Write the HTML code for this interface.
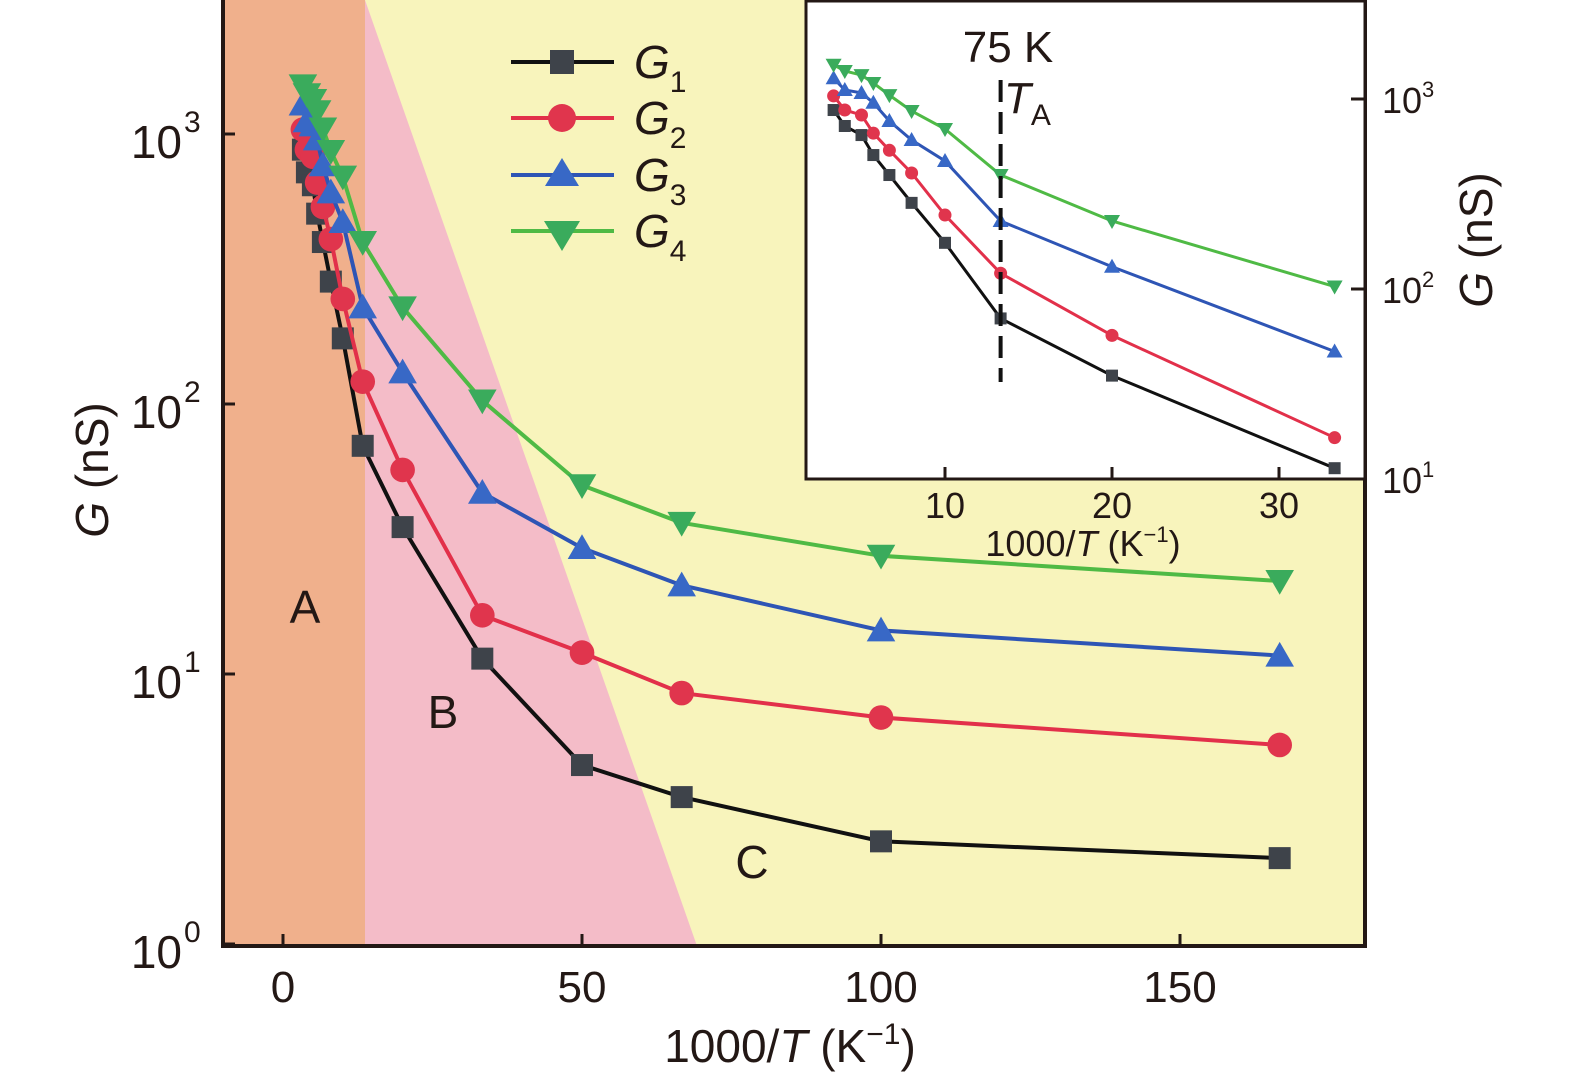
<!DOCTYPE html>
<html><head><meta charset="utf-8"><style>
html,body{margin:0;padding:0;background:#fff;}
svg{display:block;font-family:"Liberation Sans",sans-serif;}
</style></head><body>
<svg id="chart" width="1575" height="1083" viewBox="0 0 1575 1083">
<g id="bg"></g>
<g id="main"></g>
<g id="inset"></g>
</svg>
<script>
const invT = [3.33, 4, 5, 5.71, 6.67, 8, 10, 13.33, 20, 33.33, 50, 66.67, 100, 166.67];
const g1 = [875, 721, 646, 507, 398, 284, 175, 70, 35, 11.4, 4.6, 3.5, 2.4, 2.08];
const g2 = [1038, 875, 824, 661, 537, 408, 245, 121, 57, 16.5, 12, 8.5, 6.9, 5.46];
const g3 = [1286, 1115, 1076, 955, 766, 608, 472, 228, 131, 46.9, 29.3, 21.3, 14.5, 11.7];
const g4 = [1514, 1404, 1336, 1214, 1048, 865, 695, 398, 228, 103, 50, 36.3, 27.4, 22.1];
const xTicks = [0, 50, 100, 150];
const yTicks = [0, 1, 2, 3];
const insetXTicks = [10, 20, 30];
const insetYTicks = [1, 2, 3];
const seriesNames = ['G1','G2','G3','G4'];

const NS = 'http://www.w3.org/2000/svg';
function mk(parent, tag, attrs){const e=document.createElementNS(NS,tag);for(const k in attrs)e.setAttribute(k,attrs[k]);parent.appendChild(e);return e;}
const bg=document.getElementById('bg'), main=document.getElementById('main'), inset=document.getElementById('inset');

// main axes
const L=223,R=1365,B=946,T=0;
const X = v => 283 + (v-0)*5.98;
const Y = v => 944 - Math.log10(v)*270;
// inset axes
const IL=806,IR=1365,IT=1,IB=479;
const IX = v => 778 + v*16.7;
const IY = v => 479 - (Math.log10(v)-1)*190;

// background regions
let e;
e=mk(bg,'rect',{x:L,y:T,width:R-L,height:B-T,fill:'#f8f4bc'});

e=mk(bg,'polygon',{points:`365,${T} 365,${B} 697,${B} 365,${T}`,fill:'#f4bcc8'});

e=mk(bg,'rect',{x:L,y:T,width:365-L,height:B-T,fill:'#f0b08c'});


const colors=[
 {line:'#111',mk:'#3e434a',shape:'sq'},
 {line:'#e2304a',mk:'#e0354d',shape:'ci'},
 {line:'#2e55b5',mk:'#3868c6',shape:'up'},
 {line:'#4fba45',mk:'#3aab5c',shape:'dn'}];
const data=[g1,g2,g3,g4];

function marker(g,shape,cx,cy,s,fill){
  if(shape==='sq') return mk(g,'rect',{x:cx-s,y:cy-s,width:2*s,height:2*s,fill});
  if(shape==='ci') return mk(g,'circle',{cx,cy,r:s*1.12,fill});
  if(shape==='up') return mk(g,'polygon',{points:`${cx},${cy-s*1.25} ${cx-s*1.3},${cy+s} ${cx+s*1.3},${cy+s}`,fill});
  return mk(g,'polygon',{points:`${cx},${cy+s*1.25} ${cx-s*1.3},${cy-s} ${cx+s*1.3},${cy-s}`,fill});
}

// main series
data.forEach((arr,i)=>{
  const g=mk(main,'g',{});
  
  
  const pts=arr.map((v,j)=>X(invT[j])+','+Y(v)).join(' ');
  const pl=mk(g,'polyline',{points:pts,fill:'none',stroke:colors[i].line,'stroke-width':4,'stroke-linejoin':'round'});
  
  
  arr.forEach((v,j)=>{
    const m=marker(g,colors[i].shape,X(invT[j]),Y(v),11,colors[i].mk);
    
    
  });
});

// main frame
e=mk(main,'path',{d:`M${L},${T} V${B} H${R} V${T}`,fill:'none',stroke:'#231815','stroke-width':4});

xTicks.forEach(t=>{
  const x=X(t);
  e=mk(main,'line',{x1:x,y1:B,x2:x,y2:B-12,stroke:'#231815','stroke-width':3});
  
  e=mk(main,'text',{x:x,y:1002,'font-size':44,'text-anchor':'middle',fill:'#231815'});
  e.textContent=t;
  
});
yTicks.forEach(t=>{
  const y=Y(Math.pow(10,t));
  e=mk(main,'line',{x1:L,y1:y,x2:L+12,y2:y,stroke:'#231815','stroke-width':3});
  
  e=mk(main,'text',{x:182,y:y+24,'font-size':46,'text-anchor':'end',fill:'#231815'});
  e.textContent='10';
  
  const s=mk(main,'text',{x:184,y:y-2,'font-size':30,fill:'#231815'});
  s.textContent=t;
  
});
</script>
<script>
// static labels
(function(){
const NS='http://www.w3.org/2000/svg';
const svg=document.getElementById('chart');
function t(x,y,size,html,name,extra){const e=document.createElementNS(NS,'text');e.setAttribute('x',x);e.setAttribute('y',y);e.setAttribute('font-size',size);e.setAttribute('fill','#231815');if(extra)for(const k in extra)e.setAttribute(k,extra[k]);e.innerHTML=html;svg.appendChild(e);return e;}
t(790,1062,46,'1000/<tspan font-style="italic">T</tspan> (K<tspan font-size="30" dy="-18">−1</tspan><tspan dy="18">)</tspan>','x-axis-title',{'text-anchor':'middle'});
t(108,470,46,'<tspan font-style="italic">G</tspan> (nS)','y-axis-title',{'text-anchor':'middle',transform:'rotate(-90 108 470)'});
t(305,623,46,'A','region-a-label',{'text-anchor':'middle'});
t(443,728,46,'B','region-b-label',{'text-anchor':'middle'});
t(752,878,46,'C','region-c-label',{'text-anchor':'middle'});
})();
</script>
<script>
// legend
(function(){
const NS='http://www.w3.org/2000/svg';
const svg=document.getElementById('chart');
const rows=[62,118,175,231];
const cols=[['#111','#3e434a','sq'],['#e2304a','#e0354d','ci'],['#2e55b5','#3868c6','up'],['#4fba45','#3aab5c','dn']];
const g=document.createElementNS(NS,'g');svg.appendChild(g);
function mk(p,tag,a){const e=document.createElementNS(NS,tag);for(const k in a)e.setAttribute(k,a[k]);p.appendChild(e);return e;}
rows.forEach((y,i)=>{
  const it=mk(g,'g',{});
  
  
  mk(it,'line',{x1:511,y1:y,x2:614,y2:y,stroke:cols[i][0],'stroke-width':4});
  const cx=562,s=12,f=cols[i][1];
  if(cols[i][2]==='sq')mk(it,'rect',{x:cx-s,y:y-s,width:2*s,height:2*s,fill:f});
  else if(cols[i][2]==='ci')mk(it,'circle',{cx:cx,cy:y,r:14,fill:f});
  else if(cols[i][2]==='up')mk(it,'polygon',{points:`${cx},${y-17} ${cx-17},${y+11} ${cx+17},${y+11}`,fill:f});
  else mk(it,'polygon',{points:`${cx},${y+20} ${cx-18},${y-10} ${cx+18},${y-10}`,fill:f});
  const tx=mk(it,'text',{x:634,y:y+16,'font-size':46,fill:'#231815'});
  tx.innerHTML='<tspan font-style="italic">G</tspan><tspan font-size="30" dy="14">'+(i+1)+'</tspan>';
});
})();
</script>
<script>
// inset
(function(){
const NS='http://www.w3.org/2000/svg';
const inset=document.getElementById('inset');
function mk(p,tag,a){const e=document.createElementNS(NS,tag);for(const k in a)e.setAttribute(k,a[k]);p.appendChild(e);return e;}
const IL=806,IR=1365,IT=1,IB=479;
const IX=v=>778+v*16.7;
const IY=v=>479-(Math.log10(v)-1)*190;
let e=mk(inset,'rect',{x:IL,y:IT,width:IR-IL,height:IB-IT,fill:'#ffffff',stroke:'#231815','stroke-width':3});

const cols=[['#111','#3e434a','sq'],['#e2304a','#e0354d','ci'],['#2e55b5','#3868c6','up'],['#4fba45','#3aab5c','dn']];
const data=[g1,g2,g3,g4];
const n=invT.filter(v=>v<=34).length;
data.forEach((arr,i)=>{
  const g=mk(inset,'g',{});
  
  
  const pts=arr.slice(0,n).map((v,j)=>IX(invT[j])+','+IY(v)).join(' ');
  mk(g,'polyline',{points:pts,fill:'none',stroke:cols[i][0],'stroke-width':3});
  arr.slice(0,n).forEach((v,j)=>{
    const cx=IX(invT[j]),cy=IY(v),s=6,f=cols[i][1];
    let m;
    if(cols[i][2]==='sq')m=mk(g,'rect',{x:cx-s,y:cy-s,width:2*s,height:2*s,fill:f});
    else if(cols[i][2]==='ci')m=mk(g,'circle',{cx:cx,cy:cy,r:6.5,fill:f});
    else if(cols[i][2]==='up')m=mk(g,'polygon',{points:`${cx},${cy-8} ${cx-8},${cy+6} ${cx+8},${cy+6}`,fill:f});
    else m=mk(g,'polygon',{points:`${cx},${cy+8} ${cx-8},${cy-6} ${cx+8},${cy-6}`,fill:f});
    
    
  });
});
// dashed TA line
e=mk(inset,'line',{x1:IX(13.33),y1:80,x2:IX(13.33),y2:382,stroke:'#111','stroke-width':4,'stroke-dasharray':'22 10'});

insetXTicks.forEach(t=>{
  const x=IX(t);
  e=mk(inset,'line',{x1:x,y1:IB,x2:x,y2:IB-12,stroke:'#231815','stroke-width':3});
  
  e=mk(inset,'text',{x:x,y:518,'font-size':36,'text-anchor':'middle',fill:'#231815'});
  e.textContent=t;
  
});
insetYTicks.forEach(t=>{
  const y=IY(Math.pow(10,t));
  e=mk(inset,'line',{x1:IR,y1:y,x2:IR-14,y2:y,stroke:'#231815','stroke-width':3});
  
  e=mk(inset,'text',{x:1382,y:y+14,'font-size':36,fill:'#231815'});
  e.innerHTML='10<tspan font-size="22" dy="-16">'+t+'</tspan>';
  
});
function t(x,y,size,html,name,extra){const e=mk(inset,'text',Object.assign({x:x,y:y,'font-size':size,fill:'#231815'},extra||{}));e.innerHTML=html;return e;}
t(1083,556,36,'1000/<tspan font-style="italic">T</tspan> (K<tspan font-size="22" dy="-14">−1</tspan><tspan dy="14">)</tspan>','inset-x-axis-title',{'text-anchor':'middle'});
t(1492,240,46,'<tspan font-style="italic">G</tspan> (nS)','inset-y-axis-title',{'text-anchor':'middle',transform:'rotate(-90 1492 240)'});
t(1008,62,44,'75 K','ta-temperature-label',{'text-anchor':'middle'});
t(1004,113,44,'<tspan font-style="italic">T</tspan><tspan font-size="30" dy="12">A</tspan>','ta-label',{});
})();
</script>
</body></html>
